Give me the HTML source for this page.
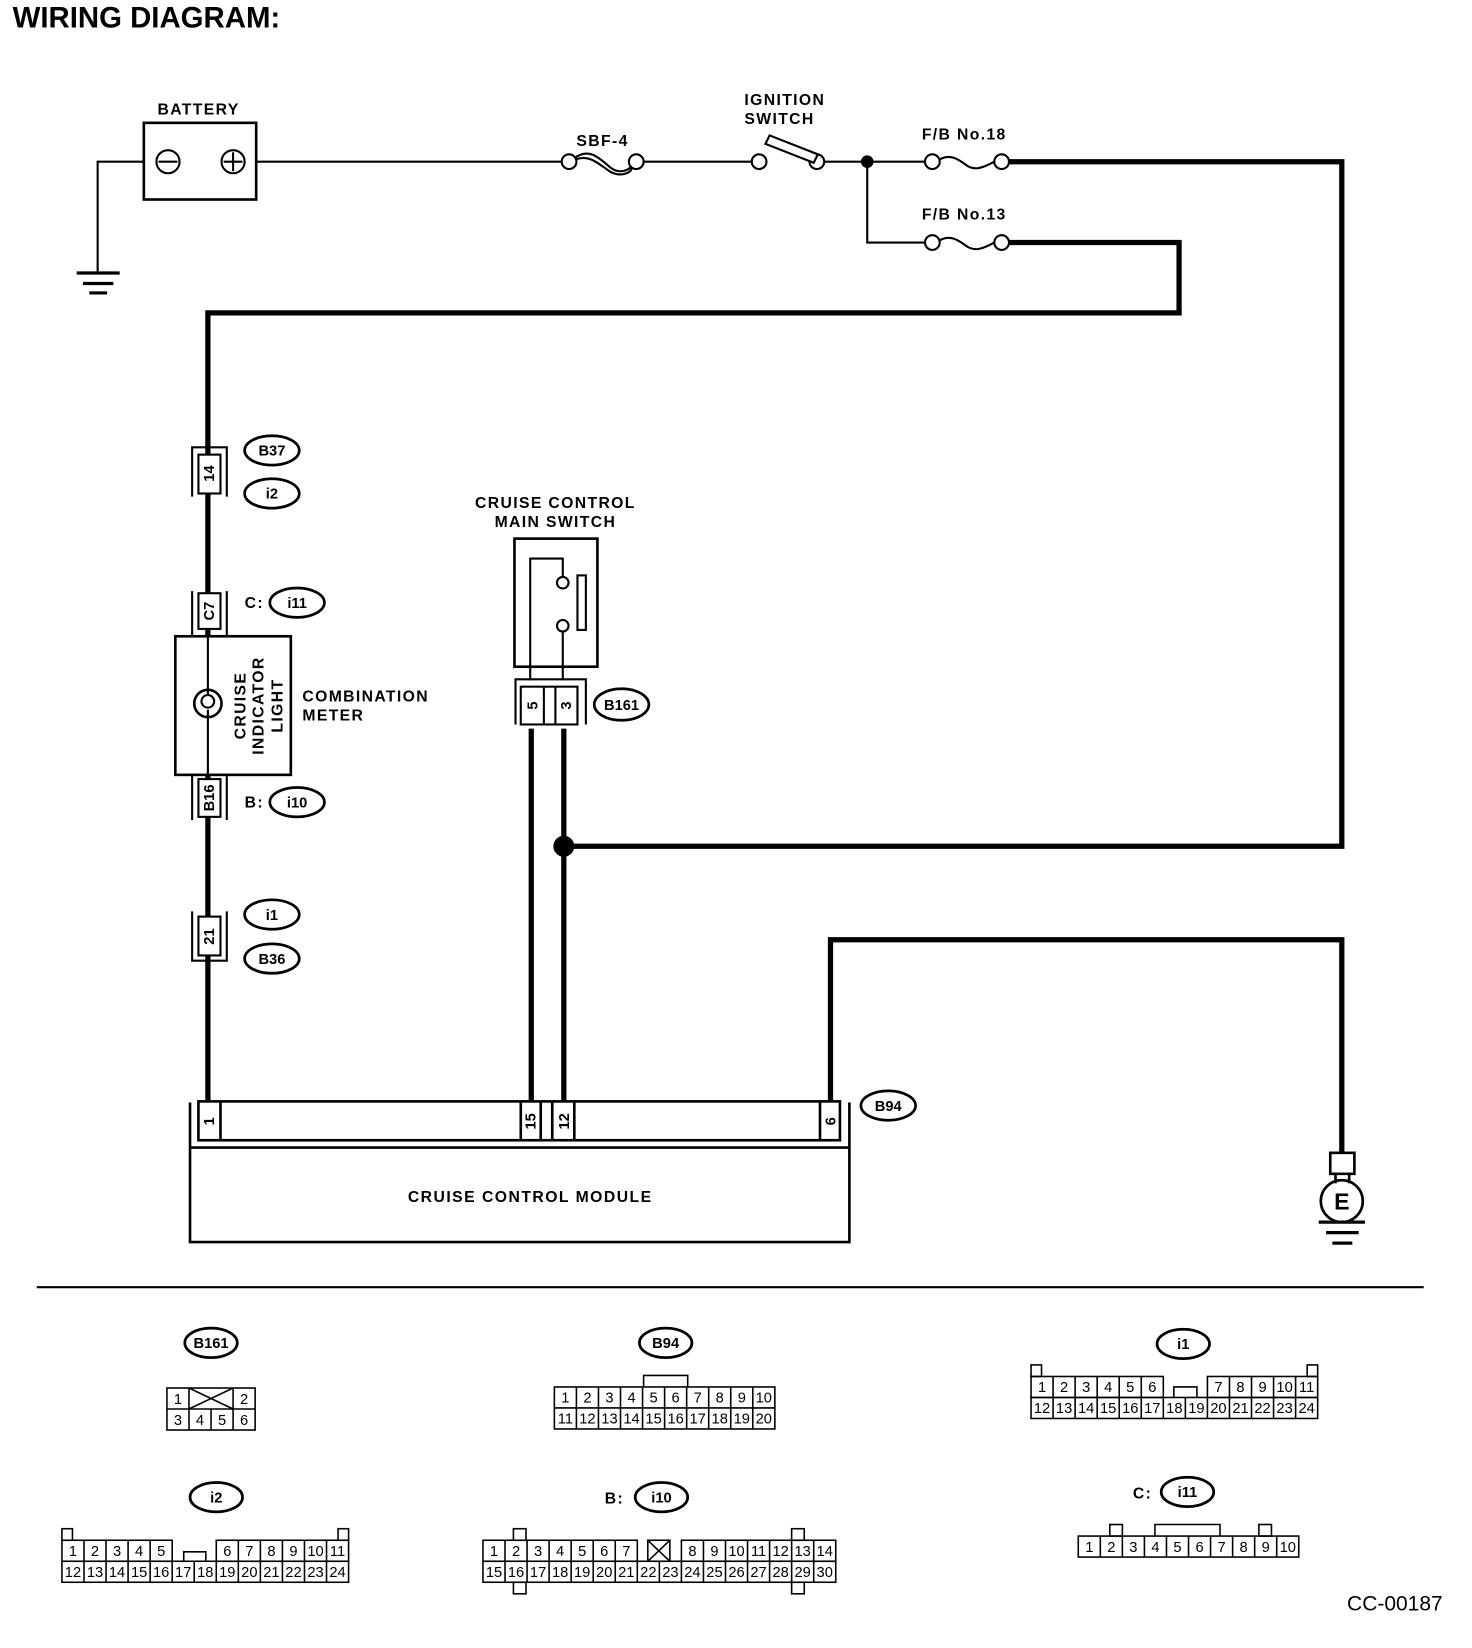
<!DOCTYPE html>
<html><head><meta charset="utf-8"><style>
html,body{margin:0;padding:0;background:#fff;}
svg{display:block;}
text{font-family:"Liberation Sans",Arial,sans-serif;fill:#000;}
.lb{font-size:15px;font-weight:bold;letter-spacing:1.3px;}
.pn{font-size:14px;text-anchor:middle;}
.el{fill:#fff;stroke:#000;stroke-width:2.6;}
.et{font-size:14px;font-weight:bold;text-anchor:middle;}
</style></head><body>
<svg width="1472" height="1648" viewBox="0 0 1402 1569.6" xmlns="http://www.w3.org/2000/svg">
<rect width="1410" height="1578.6" fill="#fff"/>
<text x="12" y="26" style="font-size:28px;font-weight:bold;">WIRING DIAGRAM:</text>

<g fill="none" stroke="#000" stroke-width="2">
<rect x="137" y="117" width="107" height="73" stroke-width="2.5"/>
<circle cx="160" cy="154" r="11"/><line x1="151" y1="154" x2="169" y2="154"/>
<circle cx="222" cy="154" r="11"/><line x1="213" y1="154" x2="231" y2="154"/><line x1="222" y1="145" x2="222" y2="163"/>
<polyline points="137,154 93,154 93,260"/>
<line x1="73" y1="260" x2="114" y2="260" stroke-width="3"/>
<line x1="79" y1="270" x2="108" y2="270" stroke-width="3"/>
<line x1="85" y1="279" x2="102" y2="279" stroke-width="3"/>
<line x1="244" y1="154" x2="535" y2="154"/>
<circle cx="542" cy="154" r="7"/><circle cx="606" cy="154" r="7"/>
<path d="M548,150 C562,140 572,152 582,160 C590,166 600,162 601,158"/>
<path d="M548,152 C562,146 572,158 582,164 C590,168 600,166 602,160"/>
<line x1="613" y1="154" x2="717" y2="154"/>
<circle cx="723" cy="154" r="7"/><circle cx="778" cy="154" r="7"/>
<polygon points="729,137 733,129 779,147 775,155" fill="#fff"/>
<line x1="785" y1="154" x2="881" y2="154"/>
<polyline points="826,154 826,231 881,231"/>
<circle cx="888" cy="154" r="7"/><circle cx="954" cy="154" r="7"/>
<path d="M895,152 C905,146 913,152 920,157 C928,163 936,160 947,154"/>
<circle cx="888" cy="231" r="7"/><circle cx="954" cy="231" r="7"/>
<path d="M895,229 C905,223 913,229 920,234 C928,240 936,237 947,231"/>
</g>
<circle cx="826" cy="154" r="6"/>

<g fill="none" stroke="#000" stroke-width="5">
<polyline points="961,154 1278,154 1278,806 537,806"/>
<polyline points="961,231 1123,231 1123,298 198,298 198,1050"/>
<line x1="506" y1="694" x2="506" y2="1050"/>
<line x1="537" y1="694" x2="537" y2="1050"/>
<polyline points="791,1050 791,895 1278,895 1278,1099"/>
</g>
<circle cx="537" cy="806" r="10"/>

<text x="150" y="109" class="lb">BATTERY</text>
<text x="549" y="139" class="lb">SBF-4</text>
<text x="709" y="100" class="lb">IGNITION</text>
<text x="709" y="118" class="lb">SWITCH</text>
<text x="878" y="133" class="lb">F/B  No.18</text>
<text x="878" y="209" class="lb">F/B  No.13</text>

<g stroke="#000" stroke-width="2" fill="#fff">
<path d="M183,473 V426 H216 V473" fill="none"/>
<rect x="189" y="433" width="21" height="37"/>
<path d="M183,563 V606 M216,563 V606" fill="none"/>
<rect x="189" y="565" width="21" height="34"/>
<rect x="167" y="606" width="110" height="132" stroke-width="2.5"/>
<line x1="198" y1="606" x2="198" y2="738"/>
<circle cx="198" cy="670" r="13" stroke-width="2.5"/>
<path d="M198,662 a6,6 0 1 1 -0.1,0 M198,676 V683 M198,657 V662" fill="none" stroke-width="2"/>
<path d="M183,738 V781 M216,738 V781" fill="none"/>
<rect x="189" y="742" width="21" height="36"/>
<path d="M183,868 V915 H216 V868" fill="none"/>
<rect x="189" y="873" width="21" height="37"/>
</g>
<g font-size="14" font-weight="bold" text-anchor="middle">
<text transform="translate(204,451) rotate(-90)">14</text>
<text transform="translate(204,582) rotate(-90)">C7</text>
<text transform="translate(204,760) rotate(-90)">B16</text>
<text transform="translate(204,892) rotate(-90)">21</text>
</g>
<g class="lb" text-anchor="middle">
<text transform="translate(234,672) rotate(-90)">CRUISE</text>
<text transform="translate(251,672) rotate(-90)">INDICATOR</text>
<text transform="translate(269,672) rotate(-90)">LIGHT</text>
</g>
<text x="288" y="668" class="lb">COMBINATION</text>
<text x="288" y="686" class="lb">METER</text>

<ellipse cx="259" cy="429" rx="26" ry="14" class="el"/><text x="259" y="434" class="et">B37</text>
<ellipse cx="259" cy="470" rx="26" ry="14" class="el"/><text x="259" y="475" class="et">i2</text>
<text x="233" y="579" class="lb">C:</text>
<ellipse cx="283" cy="574" rx="26" ry="14" class="el"/><text x="283" y="579" class="et">i11</text>
<text x="233" y="769" class="lb">B:</text>
<ellipse cx="283" cy="764" rx="26" ry="14" class="el"/><text x="283" y="769" class="et">i10</text>
<ellipse cx="259" cy="871" rx="26" ry="14" class="el"/><text x="259" y="876" class="et">i1</text>
<ellipse cx="259" cy="913" rx="26" ry="14" class="el"/><text x="259" y="918" class="et">B36</text>

<text x="529" y="484" class="lb" text-anchor="middle">CRUISE CONTROL</text>
<text x="529" y="502" class="lb" text-anchor="middle">MAIN SWITCH</text>
<g stroke="#000" stroke-width="2" fill="none">
<rect x="490" y="513" width="79" height="122" stroke-width="2.5"/>
<polyline points="505,648 505,532 536,532 536,549"/>
<circle cx="536" cy="555" r="5.5" fill="#fff"/>
<circle cx="536" cy="596" r="5.5" fill="#fff"/>
<line x1="536" y1="602" x2="536" y2="648"/>
<rect x="550" y="548" width="8" height="52"/>
<path d="M491,690 V647 H558 V690"/>
<rect x="496" y="654" width="54" height="36" fill="#fff"/>
<line x1="518" y1="654" x2="518" y2="690"/><line x1="529" y1="654" x2="529" y2="690"/>
</g>
<g font-size="14" font-weight="bold" text-anchor="middle">
<text transform="translate(512,672) rotate(-90)">5</text>
<text transform="translate(544,672) rotate(-90)">3</text>
</g>
<ellipse cx="592" cy="671" rx="26" ry="15" class="el"/><text x="592" y="676" class="et">B161</text>

<g stroke="#000" stroke-width="2.5" fill="none">
<rect x="189" y="1049" width="611" height="37"/>
<line x1="210" y1="1049" x2="210" y2="1086"/>
<line x1="496" y1="1049" x2="496" y2="1086"/><line x1="515" y1="1049" x2="515" y2="1086"/>
<line x1="526" y1="1049" x2="526" y2="1086"/><line x1="547" y1="1049" x2="547" y2="1086"/>
<line x1="781" y1="1049" x2="781" y2="1086"/>
<path d="M181,1050 V1183 H809 V1050 M181,1093 H809"/>
</g>
<g font-size="14" font-weight="bold" text-anchor="middle">
<text transform="translate(204,1068) rotate(-90)">1</text>
<text transform="translate(510,1068) rotate(-90)">15</text>
<text transform="translate(542,1068) rotate(-90)">12</text>
<text transform="translate(796,1068) rotate(-90)">6</text>
</g>
<text x="505" y="1145" class="lb" text-anchor="middle" style="letter-spacing:1.4px">CRUISE CONTROL MODULE</text>
<ellipse cx="846" cy="1053" rx="26" ry="14" class="el"/><text x="846" y="1058" class="et">B94</text>

<g stroke="#000" stroke-width="2.5" fill="none">
<rect x="1267" y="1098" width="23" height="20"/>
<line x1="1272" y1="1118" x2="1272" y2="1127"/><line x1="1285" y1="1118" x2="1285" y2="1127"/>
<circle cx="1278" cy="1144" r="20"/>
<line x1="1256" y1="1164" x2="1300" y2="1164" stroke-width="3"/>
<line x1="1263" y1="1174" x2="1294" y2="1174" stroke-width="3"/>
<line x1="1269" y1="1184" x2="1288" y2="1184" stroke-width="3"/>
</g>
<text x="1278" y="1152" text-anchor="middle" style="font-size:22px;font-weight:bold">E</text>

<line x1="35" y1="1226" x2="1356" y2="1226" stroke="#000" stroke-width="2"/>

<g stroke="#000" stroke-width="1.5" fill="none">
<rect x="159" y="1322" width="84" height="40"/>
<line x1="159" y1="1342" x2="243" y2="1342"/>
<line x1="180" y1="1322" x2="180" y2="1362"/><line x1="222" y1="1322" x2="222" y2="1362"/>
<line x1="201" y1="1342" x2="201" y2="1362"/>
<line x1="180" y1="1322" x2="222" y2="1342"/><line x1="180" y1="1342" x2="222" y2="1322"/>
<rect x="528" y="1321" width="210" height="40"/>
<line x1="528" y1="1341" x2="738" y2="1341"/>
<path d="M549,1321V1361M570,1321V1361M591,1321V1361M612,1321V1361M633,1321V1361M654,1321V1361M675,1321V1361M696,1321V1361M717,1321V1361"/>
<path d="M613,1321 V1310 H655 V1321"/>
<rect x="982" y="1331" width="273" height="20"/>
<path d="M1003,1331V1351M1024,1331V1351M1045,1331V1351M1066,1331V1351M1087,1331V1351M1108,1331V1351M1129,1331V1351M1150,1331V1351M1171,1331V1351M1192,1331V1351M1213,1331V1351M1234,1331V1351"/>
<rect x="982" y="1311" width="126" height="20"/>
<path d="M1003,1311V1331M1024,1311V1331M1045,1311V1331M1066,1311V1331M1087,1311V1331"/>
<rect x="1150" y="1311" width="105" height="20"/>
<path d="M1171,1311V1331M1192,1311V1331M1213,1311V1331M1234,1311V1331"/>
<path d="M1118,1331 V1321 H1140 V1331"/>
<rect x="982" y="1300" width="10" height="11"/><rect x="1245" y="1300" width="10" height="11"/>
<rect x="1027" y="1463" width="210" height="20"/>
<path d="M1048,1463V1483M1069,1463V1483M1090,1463V1483M1111,1463V1483M1132,1463V1483M1153,1463V1483M1174,1463V1483M1195,1463V1483M1216,1463V1483"/>
<rect x="1057" y="1452" width="12" height="11"/>
<path d="M1100,1463 V1452 H1162 V1463"/>
<rect x="1199" y="1452" width="12" height="11"/>
<rect x="59" y="1487" width="273" height="20"/>
<path d="M80,1487V1507M101,1487V1507M122,1487V1507M143,1487V1507M164,1487V1507M185,1487V1507M206,1487V1507M227,1487V1507M248,1487V1507M269,1487V1507M290,1487V1507M311,1487V1507"/>
<rect x="59" y="1467" width="105" height="20"/>
<path d="M80,1467V1487M101,1467V1487M122,1467V1487M143,1467V1487"/>
<rect x="206" y="1467" width="126" height="20"/>
<path d="M227,1467V1487M248,1467V1487M269,1467V1487M290,1467V1487M311,1467V1487"/>
<path d="M175,1487 V1478 H196 V1487"/>
<rect x="59" y="1456" width="10" height="11"/><rect x="322" y="1456" width="10" height="11"/>
<rect x="460" y="1487" width="336" height="20"/>
<path d="M481,1487V1507M502,1487V1507M523,1487V1507M544,1487V1507M565,1487V1507M586,1487V1507M607,1487V1507M628,1487V1507M649,1487V1507M670,1487V1507M691,1487V1507M712,1487V1507M733,1487V1507M754,1487V1507M775,1487V1507"/>
<rect x="460" y="1467" width="147" height="20"/>
<path d="M481,1467V1487M502,1467V1487M523,1467V1487M544,1467V1487M565,1467V1487M586,1467V1487"/>
<rect x="617" y="1467" width="21" height="20"/>
<path d="M617,1467 L638,1487 M638,1467 L617,1487"/>
<rect x="649" y="1467" width="147" height="20"/>
<path d="M670,1467V1487M691,1467V1487M712,1467V1487M733,1467V1487M754,1467V1487M775,1467V1487"/>
<rect x="489" y="1456" width="12" height="11"/><rect x="489" y="1507" width="12" height="11"/>
<rect x="754" y="1456" width="12" height="11"/><rect x="754" y="1507" width="12" height="11"/>
</g>

<ellipse cx="201" cy="1279" rx="25" ry="14" class="el"/><text x="201" y="1284" class="et">B161</text>
<ellipse cx="634" cy="1279" rx="25" ry="14" class="el"/><text x="634" y="1284" class="et">B94</text>
<ellipse cx="1127" cy="1280" rx="25" ry="14" class="el"/><text x="1127" y="1285" class="et">i1</text>
<text x="1079" y="1427" class="lb">C:</text>
<ellipse cx="1131" cy="1421" rx="25" ry="14" class="el"/><text x="1131" y="1426" class="et">i11</text>
<ellipse cx="206" cy="1426" rx="25" ry="14" class="el"/><text x="206" y="1431" class="et">i2</text>
<text x="576" y="1432" class="lb">B:</text>
<ellipse cx="630" cy="1426" rx="25" ry="14" class="el"/><text x="630" y="1431" class="et">i10</text>

<g class="pn">
<text x="169.5" y="1337">1</text><text x="232.5" y="1337">2</text>
<text x="169.5" y="1357">3</text><text x="190.5" y="1357">4</text><text x="211.5" y="1357">5</text><text x="232.5" y="1357">6</text>
<text x="538.5" y="1336">1</text><text x="559.5" y="1336">2</text><text x="580.5" y="1336">3</text><text x="601.5" y="1336">4</text><text x="622.5" y="1336">5</text><text x="643.5" y="1336">6</text><text x="664.5" y="1336">7</text><text x="685.5" y="1336">8</text><text x="706.5" y="1336">9</text><text x="727.5" y="1336">10</text>
<text x="538.5" y="1356">11</text><text x="559.5" y="1356">12</text><text x="580.5" y="1356">13</text><text x="601.5" y="1356">14</text><text x="622.5" y="1356">15</text><text x="643.5" y="1356">16</text><text x="664.5" y="1356">17</text><text x="685.5" y="1356">18</text><text x="706.5" y="1356">19</text><text x="727.5" y="1356">20</text>
<text x="992.5" y="1326">1</text><text x="1013.5" y="1326">2</text><text x="1034.5" y="1326">3</text><text x="1055.5" y="1326">4</text><text x="1076.5" y="1326">5</text><text x="1097.5" y="1326">6</text>
<text x="1160.5" y="1326">7</text><text x="1181.5" y="1326">8</text><text x="1202.5" y="1326">9</text><text x="1223.5" y="1326">10</text><text x="1244.5" y="1326">11</text>
<text x="992.5" y="1346">12</text><text x="1013.5" y="1346">13</text><text x="1034.5" y="1346">14</text><text x="1055.5" y="1346">15</text><text x="1076.5" y="1346">16</text><text x="1097.5" y="1346">17</text><text x="1118.5" y="1346">18</text><text x="1139.5" y="1346">19</text><text x="1160.5" y="1346">20</text><text x="1181.5" y="1346">21</text><text x="1202.5" y="1346">22</text><text x="1223.5" y="1346">23</text><text x="1244.5" y="1346">24</text>
<text x="1037.5" y="1478">1</text><text x="1058.5" y="1478">2</text><text x="1079.5" y="1478">3</text><text x="1100.5" y="1478">4</text><text x="1121.5" y="1478">5</text><text x="1142.5" y="1478">6</text><text x="1163.5" y="1478">7</text><text x="1184.5" y="1478">8</text><text x="1205.5" y="1478">9</text><text x="1226.5" y="1478">10</text>
<text x="69.5" y="1482">1</text><text x="90.5" y="1482">2</text><text x="111.5" y="1482">3</text><text x="132.5" y="1482">4</text><text x="153.5" y="1482">5</text>
<text x="216.5" y="1482">6</text><text x="237.5" y="1482">7</text><text x="258.5" y="1482">8</text><text x="279.5" y="1482">9</text><text x="300.5" y="1482">10</text><text x="321.5" y="1482">11</text>
<text x="69.5" y="1502">12</text><text x="90.5" y="1502">13</text><text x="111.5" y="1502">14</text><text x="132.5" y="1502">15</text><text x="153.5" y="1502">16</text><text x="174.5" y="1502">17</text><text x="195.5" y="1502">18</text><text x="216.5" y="1502">19</text><text x="237.5" y="1502">20</text><text x="258.5" y="1502">21</text><text x="279.5" y="1502">22</text><text x="300.5" y="1502">23</text><text x="321.5" y="1502">24</text>
<text x="470.5" y="1482">1</text><text x="491.5" y="1482">2</text><text x="512.5" y="1482">3</text><text x="533.5" y="1482">4</text><text x="554.5" y="1482">5</text><text x="575.5" y="1482">6</text><text x="596.5" y="1482">7</text>
<text x="659.5" y="1482">8</text><text x="680.5" y="1482">9</text><text x="701.5" y="1482">10</text><text x="722.5" y="1482">11</text><text x="743.5" y="1482">12</text><text x="764.5" y="1482">13</text><text x="785.5" y="1482">14</text>
<text x="470.5" y="1502">15</text><text x="491.5" y="1502">16</text><text x="512.5" y="1502">17</text><text x="533.5" y="1502">18</text><text x="554.5" y="1502">19</text><text x="575.5" y="1502">20</text><text x="596.5" y="1502">21</text><text x="617.5" y="1502">22</text><text x="638.5" y="1502">23</text><text x="659.5" y="1502">24</text><text x="680.5" y="1502">25</text><text x="701.5" y="1502">26</text><text x="722.5" y="1502">27</text><text x="743.5" y="1502">28</text><text x="764.5" y="1502">29</text><text x="785.5" y="1502">30</text>
</g>

<text x="1283" y="1534" style="font-size:20px">CC-00187</text>
</svg>
</body></html>
